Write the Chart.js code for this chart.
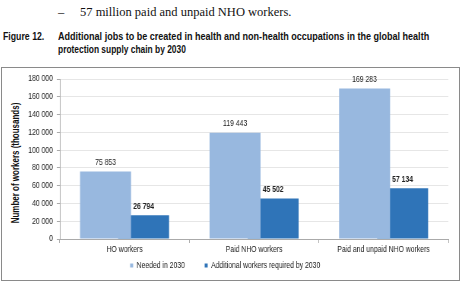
<!DOCTYPE html>
<html>
<head>
<meta charset="utf-8">
<script src="https://cdn.jsdelivr.net/npm/chart.js@4/dist/chart.umd.min.js"></script>
<style>
  html, body { margin: 0; padding: 0; background: #fff; }
  body { width: 461px; height: 281px; position: relative; overflow: hidden; }
  .t1 { position: absolute; top: 5px; left: 58px; font-family: "Liberation Serif", serif; font-size: 12.5px; color: #111; white-space: nowrap; }
  .t1 .dash { position: absolute; left: 0; }
  .t1 .txt { position: absolute; left: 22px; }
  .hd { position: absolute; font-family: "Liberation Sans", Arial, sans-serif; font-weight: bold; font-size: 11.5px; line-height: 13px; color: #111; white-space: nowrap; transform-origin: 0 0; }
  .ytitle { position: absolute; left: 15px; top: 163px; font-family: "Liberation Sans", Arial, sans-serif; font-weight: bold; font-size: 10.5px; line-height: 12px; color: #111; white-space: nowrap; transform: translate(-50%, -50%) rotate(-90deg) scaleX(0.76); }
  .box { position: absolute; left: 1px; top: 67px; width: 457px; height: 212px; border: 1px solid #8a8a8a; }
  .box canvas { position: absolute; left: 0; top: 0; width: 457px; height: 212px; }
</style>
</head>
<body>
<div class="t1"><span class="dash">–</span><span class="txt">57 million paid and unpaid NHO workers.</span></div>
<div class="hd" style="left:3px; top:30px; transform:scaleX(0.76)">Figure 12.</div>
<div class="hd" style="left:58px; top:30px; transform:scaleX(0.785)">Additional jobs to be created in health and non-health occupations in the global health</div>
<div class="hd" style="left:58px; top:43px; transform:scaleX(0.73)">protection supply chain by 2030</div>
<div class="ytitle">Number of workers (thousands)</div>
<div class="box"><canvas id="c" width="601" height="212" style="width:457px;height:212px"></canvas></div>
<script>
const categories = ["HO workers", "Paid NHO workers", "Paid and unpaid NHO workers"];
const seriesNames = ["Needed in 2030", "Additional workers required by 2030"];
const neededIn2030 = [75853, 119443, 169283];
const additionalBy2030 = [26794, 45502, 57134];
const yTicks = [0, 20000, 40000, 60000, 80000, 100000, 120000, 140000, 160000, 180000];

const fmt = v => String(v).replace(/\B(?=(\d{3})+(?!\d))/g, " ");
const fam = '"Liberation Sans", Arial, sans-serif';

const labelPlugin = {
  id: 'valueLabels',
  afterDatasetsDraw(chart) {
    const ctx = chart.ctx;
    chart.data.datasets.forEach((ds, i) => {
      const meta = chart.getDatasetMeta(i);
      meta.data.forEach((el, j) => {
        ctx.save();
        ctx.font = (i === 1 ? 'bold ' : '') + '9px ' + fam;
        ctx.fillStyle = '#222';
        ctx.textAlign = 'center';
        ctx.textBaseline = 'middle';
        ctx.fillText(fmt(ds.data[j]), el.x, el.y - 9);
        ctx.restore();
      });
    });
  }
};

new Chart(document.getElementById('c'), {
  type: 'bar',
  data: {
    labels: categories,
    datasets: [
      { label: seriesNames[0], data: neededIn2030, backgroundColor: '#98b8df', borderWidth: 0,
        categoryPercentage: 0.5875, barPercentage: 1.34 },
      { label: seriesNames[1], data: additionalBy2030, backgroundColor: '#2f74b8', borderWidth: 0,
        categoryPercentage: 0.5875, barPercentage: 1.34 }
    ]
  },
  options: {
    responsive: false,
    animation: false,
    layout: { padding: { top: 11, right: 14, left: 0, bottom: 0 } },
    plugins: {
      legend: {
        position: 'bottom',
        labels: {
          boxWidth: 4, boxHeight: 4, color: '#222', font: { size: 9, family: fam }, padding: 6,
          generateLabels: chart => Chart.defaults.plugins.legend.labels.generateLabels(chart)
            .map((l, i) => i === 0 ? Object.assign({}, l, { text: l.text + '        ' }) : l)
        }
      },
      tooltip: { enabled: false }
    },
    scales: {
      x: {
        afterFit: s => { s.height = 16; },
        grid: { display: true, drawOnChartArea: false, drawTicks: true, tickLength: 4, color: '#aaa' },
        border: { color: '#aaa' },
        ticks: { color: '#222', font: { size: 9, family: fam }, padding: 1 }
      },
      y: {
        min: 0, max: 180000,
        afterFit: s => { s.width = 76; },
        afterBuildTicks: s => { s.ticks = yTicks.map(v => ({ value: v })); },
        grid: { color: '#e6e6e6', tickLength: 4, tickColor: '#aaa' },
        border: { color: '#aaa' },
        ticks: { color: '#222', font: { size: 9, family: fam }, padding: 5, callback: v => fmt(v) },
        title: { display: false }
      }
    }
  },
  plugins: [labelPlugin]
});
</script>
</body>
</html>
